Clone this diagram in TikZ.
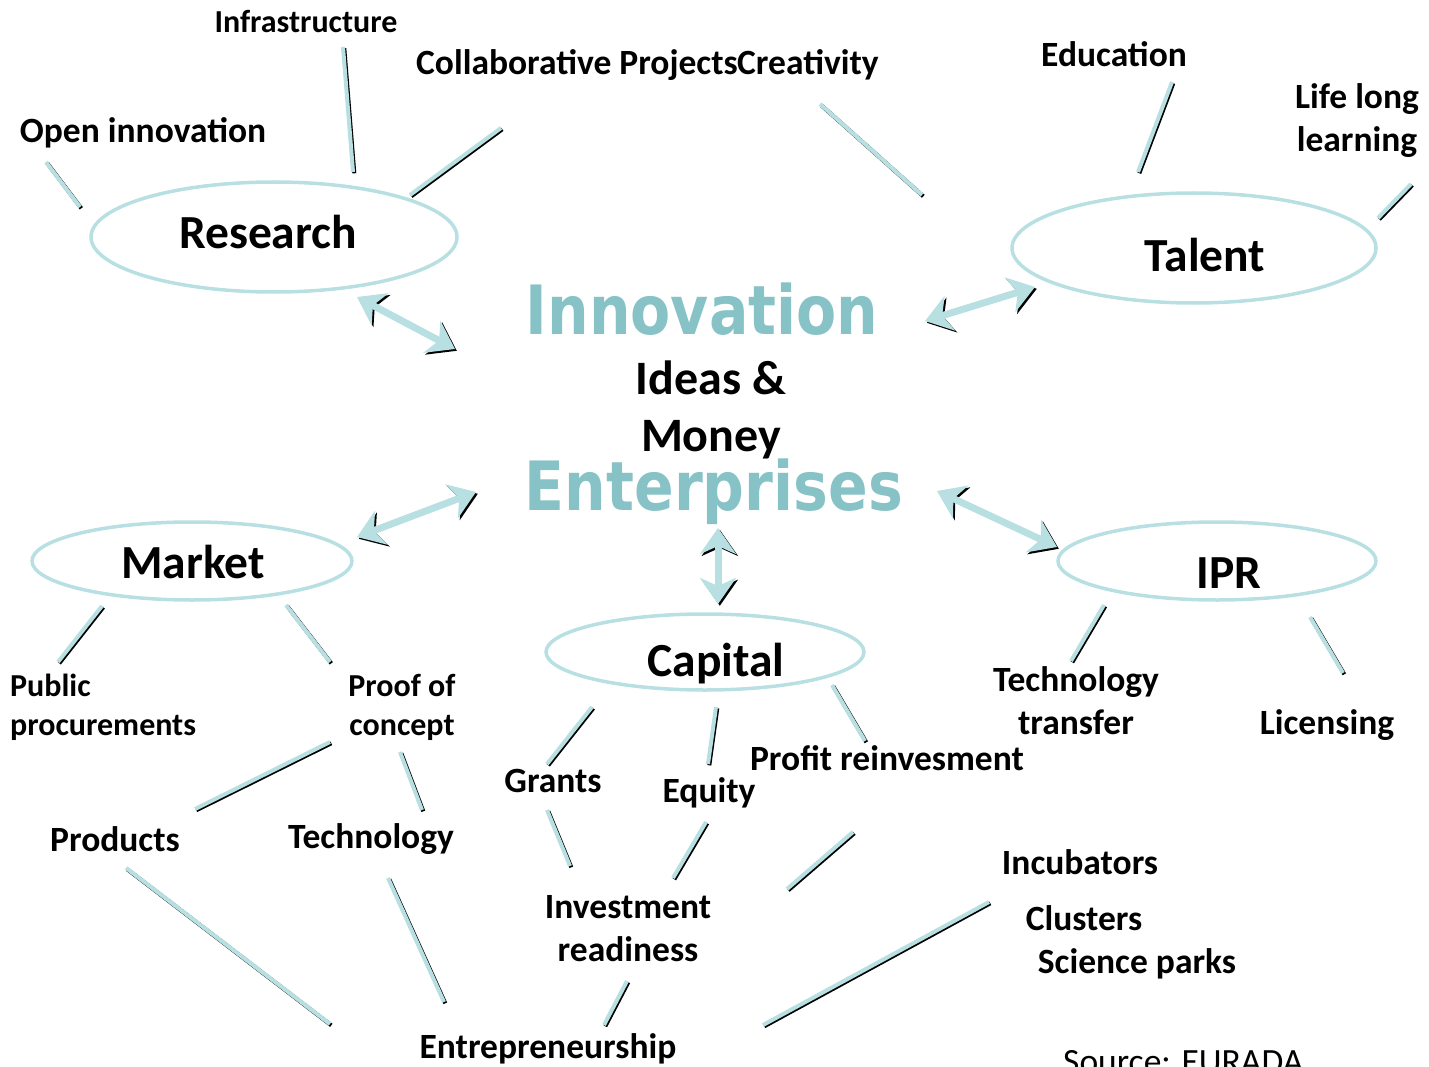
\documentclass[tikz,border=0pt]{standalone}
\usepackage{fontspec}
\setmainfont{Carlito}
\newfontfamily\wordart[FakeStretch=0.86]{DejaVu Sans}
\usetikzlibrary{shapes.geometric,arrows.meta}
\definecolor{paleteal}{HTML}{B8E0E2}
\definecolor{artteal}{HTML}{86C2C6}

\begin{document}
\begin{tikzpicture}[x=1pt,y=-1pt,
  hub/.style={draw=paleteal, line width=3.5pt, ellipse, inner sep=0pt},
  big/.style={font=\fontsize{47.5}{57}\selectfont\bfseries, inner sep=0pt, align=center},
  mid/.style={font=\fontsize{35.5}{43}\selectfont\bfseries, inner sep=0pt, align=center},
  small/.style={font=\fontsize{32}{39}\selectfont\bfseries, inner sep=0pt, align=center},
  art/.style={font=\wordart\fontsize{68}{68}\selectfont\bfseries, text=artteal, inner sep=0pt},
  link/.style={draw=paleteal, line width=4pt,
    preaction={draw=black, line width=4pt, transform canvas={shift={(1.3pt,-1.3pt)}}}},
  twoway/.style={draw=paleteal, line width=7pt,
    {Stealth[length=26pt,width=36pt,inset=8pt]}-{Stealth[length=26pt,width=36pt,inset=8pt]},
    preaction={draw=black, transform canvas={shift={(1.8pt,-1.8pt)}}}}
]
\useasboundingbox (0,0) rectangle (1429,1067);

% ---- hub ellipses ----
\node[hub, minimum width=366pt, minimum height=110pt] (researchE) at (274,237) {};
\node[hub, minimum width=364pt, minimum height=110pt] (talentE) at (1194,248) {};
\node[hub, minimum width=320pt, minimum height=78pt] (marketE) at (192,561) {};
\node[hub, minimum width=318pt, minimum height=78pt] (iprE) at (1217,561) {};
\node[hub, minimum width=318pt, minimum height=76pt] (capitalE) at (705,652) {};

% ---- hub labels ----
\node[big] (research) at (268,232) {Research};
\node[big] (talent) at (1205,255) {Talent};
\node[big] (market) at (193,562) {Market};
\node[big] (ipr) at (1229,573) {IPR};
\node[big] (capital) at (716,664) {Capital};

% ---- centre ----
\node[art] (innovation) at (702,309) {Innovation};
\node[big, font=\fontsize{48}{57}\selectfont\bfseries] (ideas) at (711,410) {Ideas \&\\Money};
\node[art] (enterprises) at (714,492) {Enterprises};

% ---- outer labels ----
\node[small] (infra) at (306,22) {Infrastructure};
\node[mid] (openinn) at (143,133) {Open innovation};
\node[mid, anchor=west] (collab) at (416,65) {Collaborative Projects};
\node[mid, anchor=west] (creat) at (737,65) {Creativity};
\node[mid] (educ) at (1114,54) {Education};
\node[mid] (lifelong) at (1357,121) {Life long\\learning};
\node[small, anchor=west, align=left] (public) at (10,707) {Public\\procurements};
\node[small] (proof) at (402,707) {Proof of\\concept};
\node[mid] (techtr) at (1076,701) {Technology\\transfer};
\node[mid] (lic) at (1327,725) {Licensing};
\node[mid] (grants) at (553,781) {Grants};
\node[mid] (equity) at (709,793) {Equity};
\node[mid] (profit) at (887,758) {Profit reinvesment};
\node[mid] (products) at (115,839) {Products};
\node[mid] (tech) at (371,839) {Technology};
\node[mid] (invest) at (628,929) {Investment\\readiness};
\node[mid] (incub) at (1080,862) {Incubators};
\node[mid] (clusters) at (1084,918) {Clusters};
\node[mid] (science) at (1137,964) {Science parks};
\node[mid] (entre) at (548,1049) {Entrepreneurship};
\node[font=\fontsize{35.5}{43}\selectfont, inner sep=0pt, anchor=west] (source) at (1063,1062) {Source: EURADA};

% ---- connector end points ----
\coordinate (oiA) at (46,162);   \coordinate (oiB) at (80,207);
\coordinate (inA) at (343,47);   \coordinate (inB) at (353,172);
\coordinate (coA) at (501,128);  \coordinate (coB) at (410,195);
\coordinate (crA) at (820,104);  \coordinate (crB) at (922,195);
\coordinate (edA) at (1172,82);  \coordinate (edB) at (1138,172);
\coordinate (llA) at (1411,184); \coordinate (llB) at (1378,218);
\coordinate (rsA) at (357,297);  \coordinate (rsB) at (455,349);
\coordinate (tlA) at (925,321);  \coordinate (tlB) at (1035,287);
\coordinate (mkA) at (357,537);  \coordinate (mkB) at (476,492);
\coordinate (ipA) at (937,491);  \coordinate (ipB) at (1057,547);
\coordinate (cpA) at (718,528);  \coordinate (cpB) at (718,604);
\coordinate (puA) at (102,606);  \coordinate (puB) at (58,662);
\coordinate (prA) at (286,605);  \coordinate (prB) at (330,662);
\coordinate (pdA) at (330,742);  \coordinate (pdB) at (195,809);
\coordinate (teA) at (400,752);  \coordinate (teB) at (422,810);
\coordinate (grA) at (592,707);  \coordinate (grB) at (547,764);
\coordinate (eqA) at (716,707);  \coordinate (eqB) at (708,764);
\coordinate (pfA) at (832,685);  \coordinate (pfB) at (865,741);
\coordinate (ttA) at (1104,605); \coordinate (ttB) at (1071,661);
\coordinate (liA) at (1310,617); \coordinate (liB) at (1343,673);
\coordinate (giA) at (547,810);  \coordinate (giB) at (570,866);
\coordinate (eiA) at (706,822);  \coordinate (eiB) at (673,878);
\coordinate (piA) at (853,832);  \coordinate (piB) at (787,889);
\coordinate (peA) at (126,868);  \coordinate (peB) at (330,1024);
\coordinate (tnA) at (388,878);  \coordinate (tnB) at (444,1002);
\coordinate (ieA) at (627,981);  \coordinate (ieB) at (604,1025);
\coordinate (icA) at (989,902);  \coordinate (icB) at (763,1025);

% ---- plain connectors ----
\foreach \c in {oi,in,co,cr,ed,ll,pu,pr,pd,te,gr,eq,pf,tt,li,gi,ei,pi,pe,tn,ie,ic}
  \draw[link] (\c A) -- (\c B);

% ---- two-way arrows ----
\foreach \c in {rs,tl,mk,ip,cp}
  \draw[twoway] (\c A) -- (\c B);
\end{tikzpicture}
\end{document}
